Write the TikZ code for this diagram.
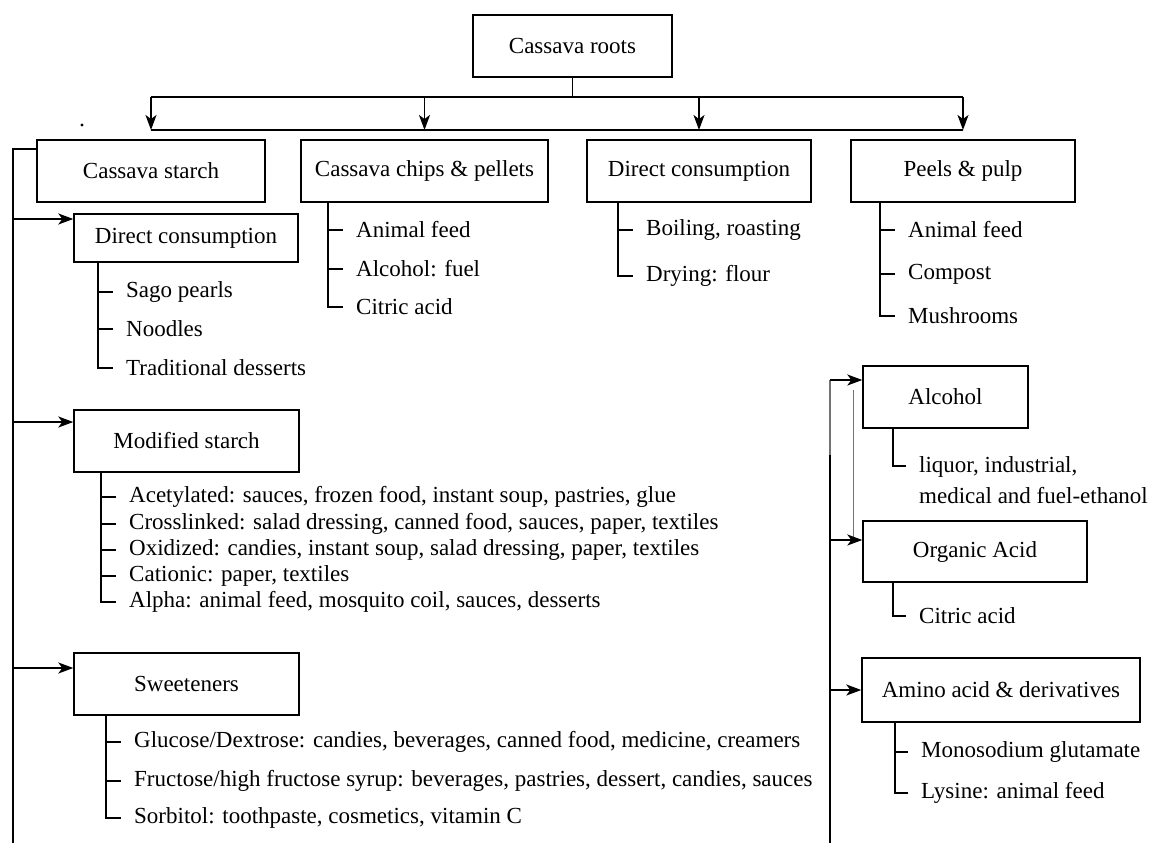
\documentclass[tikz,border=0pt]{standalone}
\usepackage{fontspec}
\setmainfont{Liberation Serif}
\usetikzlibrary{arrows.meta}
\begin{document}
\begin{tikzpicture}[x=1pt,y=-1pt,
  every node/.style={font=\fontsize{23}{27}\selectfont},
  box/.style={draw, line width=1.4pt, inner sep=0pt, align=center},
  item/.style={anchor=west, inner xsep=13pt, inner ysep=0pt},
  ln/.style={line width=1.5pt},
  thinln/.style={line width=1pt, black!55},
  arr/.style={ln, -{Stealth[length=15pt,width=11pt,inset=4pt]}}]
\useasboundingbox (0,0) rectangle (1149,843);

% ---------- boxes ----------
\node[box, minimum width=199pt, minimum height=62pt] (root) at (572.5,46) {Cassava roots};
\node[box, minimum width=228pt, minimum height=62pt] (starch) at (151,171) {Cassava starch};
\node[box, minimum width=247pt, minimum height=62pt] (chips) at (424.5,171) {Cassava chips \& pellets};
\node[box, minimum width=224pt, minimum height=62pt] (direct) at (699,171) {Direct consumption};
\node[box, minimum width=224pt, minimum height=62pt] (peels) at (963,171) {Peels \& pulp};

\node[box, minimum width=224pt, minimum height=48pt] (dc2) at (186,238) {Direct consumption};
\node[box, minimum width=225pt, minimum height=62pt] (mod) at (186.5,441) {Modified starch};
\node[box, minimum width=225pt, minimum height=62pt] (sweet) at (186.5,684) {Sweeteners};

\node[box, minimum width=165pt, minimum height=62pt] (alc) at (945.5,397) {Alcohol};
\node[box, minimum width=224pt, minimum height=61pt] (org) at (975,551.5) {Organic Acid};
\node[box, minimum width=278pt, minimum height=64pt] (amino) at (1001,690) {Amino acid \& derivatives};

% ---------- top distribution ----------
\coordinate (bus) at (572.5,97);
\coordinate (tips) at (572.5,130);
\draw[ln] (root.south) -- (bus);
\draw[ln] (starch.north |- bus) -- (peels.north |- bus);
\draw[ln] (starch.north |- tips) -- (peels.north |- tips);
\foreach \n in {starch,chips,direct,peels}
  \draw[arr] (\n.north |- bus) -- (\n.north |- tips);

\fill (82,125) circle (1.6pt);

% ---------- left trunk ----------
\coordinate (lt) at (13,149);
\coordinate (lb) at (13,843);
\draw[ln] (starch.west |- lt) -- (lt) -- (lb);
\coordinate (a1) at (13,219);
\coordinate (a2) at (13,422);
\coordinate (a3) at (13,668);
\draw[arr] (a1) -- (a1 -| dc2.west);
\draw[arr] (a2) -- (a2 -| mod.west);
\draw[arr] (a3) -- (a3 -| sweet.west);

% ---------- right trunk ----------
\coordinate (rt) at (830,380);
\coordinate (rm) at (830,455);
\coordinate (rb) at (830,843);
\coordinate (b2) at (830,540);
\coordinate (b3) at (830,690);
\coordinate (it) at (853,390);
\coordinate (ib) at (853,540);
\draw[ln, black!55] (rt) -- (rm);
\draw[ln] (rm) -- (rb);
\draw[thinln] (it) -- (ib);
\draw[arr] (rt) -- (rt -| alc.west);
\draw[arr] (b2) -- (b2 -| org.west);
\draw[arr] (b3) -- (b3 -| amino.west);

% ---------- lists ----------
% direct consumption (starch)
\coordinate (v1) at (98,262);
\node[item] (i11) at (113,292) {Sago pearls};
\node[item] (i12) at (113,329) {Noodles};
\node[item] (i13) at (113,368) {Traditional desserts};
\draw[ln] (v1) -- (v1 |- i13.west) -- (i13.west);
\foreach \n in {i11,i12} \draw[ln] (v1 |- \n.west) -- (\n.west);

% chips
\coordinate (v2) at (328,202);
\node[item] (i21) at (343,230) {Animal feed};
\node[item] (i22) at (343,269) {Alcohol: fuel};
\node[item] (i23) at (343,307) {Citric acid};
\draw[ln] (v2) -- (v2 |- i23.west) -- (i23.west);
\foreach \n in {i21,i22} \draw[ln] (v2 |- \n.west) -- (\n.west);

% direct consumption (top)
\coordinate (v3) at (618,202);
\node[item] (i31) at (633,230) {Boiling, roasting};
\node[item] (i32) at (633,276) {Drying: flour};
\draw[ln] (v3) -- (v3 |- i32.west) -- (i32.west);
\draw[ln] (v3 |- i31.west) -- (i31.west);

% peels
\coordinate (v4) at (880,202);
\node[item] (i41) at (895,230) {Animal feed};
\node[item] (i42) at (895,274) {Compost};
\node[item] (i43) at (895,316) {Mushrooms};
\draw[ln] (v4) -- (v4 |- i43.west) -- (i43.west);
\foreach \n in {i41,i42} \draw[ln] (v4 |- \n.west) -- (\n.west);

% modified starch
\coordinate (v5) at (101,472);
\node[item] (i51) at (116,497) {Acetylated: sauces, frozen food, instant soup, pastries, glue};
\node[item] (i52) at (116,524) {Crosslinked: salad dressing, canned food, sauces, paper, textiles};
\node[item] (i53) at (116,550) {Oxidized: candies, instant soup, salad dressing, paper, textiles};
\node[item] (i54) at (116,576) {Cationic: paper, textiles};
\node[item] (i55) at (116,602) {Alpha: animal feed, mosquito coil, sauces, desserts};
\draw[ln] (v5) -- (v5 |- i55.west) -- (i55.west);
\foreach \n in {i51,i52,i53,i54} \draw[ln] (v5 |- \n.west) -- (\n.west);

% sweeteners
\coordinate (v6) at (106,715);
\node[item] (i61) at (121,742) {Glucose/Dextrose: candies, beverages, canned food, medicine, creamers};
\node[item] (i62) at (121,781) {Fructose/high fructose syrup: beverages, pastries, dessert, candies, sauces};
\node[item] (i63) at (121,818) {Sorbitol: toothpaste, cosmetics, vitamin C};
\draw[ln] (v6) -- (v6 |- i63.west) -- (i63.west);
\foreach \n in {i61,i62} \draw[ln] (v6 |- \n.west) -- (\n.west);

% alcohol
\coordinate (v7) at (893,428);
\node[item, anchor=north west, align=left, font=\fontsize{23}{31}\selectfont] (i71) at (906,456) {liquor, industrial,\\medical and fuel-ethanol};
\coordinate (t71) at (906,466);
\draw[ln] (v7) -- (v7 |- t71) -- (t71);

% organic acid
\coordinate (v8) at (893,582);
\node[item] (i81) at (906,616) {Citric acid};
\draw[ln] (v8) -- (v8 |- i81.west) -- (i81.west);

% amino acid
\coordinate (v9) at (895,722);
\node[item] (i91) at (908,752) {Monosodium glutamate};
\node[item] (i92) at (908,793) {Lysine: animal feed};
\draw[ln] (v9) -- (v9 |- i92.west) -- (i92.west);
\draw[ln] (v9 |- i91.west) -- (i91.west);
\end{tikzpicture}
\end{document}
